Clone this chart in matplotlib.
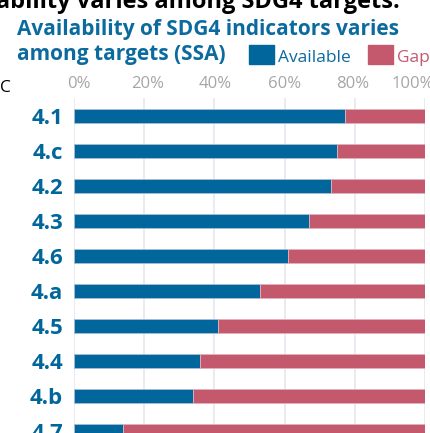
import matplotlib
matplotlib.use("Agg")
import matplotlib.pyplot as plt
from matplotlib.patches import Rectangle
from matplotlib.transforms import ScaledTranslation

categories = ["4.1", "4.c", "4.2", "4.3", "4.6", "4.a", "4.5", "4.4", "4.b", "4.7"]
available = [77.2, 75.0, 73.2, 67.0, 61.1, 53.1, 41.0, 36.0, 33.9, 14.0]
gap = [100 - v for v in available]
xticks = [0, 20, 40, 60, 80, 100]
xticklabels = ["0%", "20%", "40%", "60%", "80%", "100%"]

BLUE = "#00669b"
RED = "#c4596d"
TITLE_BLUE = "#0b6b9f"
GRID = "#e6e8ef"
TICK = "#a6a6a6"

plt.rcParams['font.family'] = ['Open Sans', 'DejaVu Sans']

W, H = 431, 433
fig = plt.figure(figsize=(W / 100, H / 100), dpi=100)

def fx(px):
    return px / W

def fy(py):
    return 1 - py / H

ax = fig.add_axes([fx(74), 0, fx(425) - fx(74), fy(98)])
ypos = list(range(len(categories)))
ax.barh(ypos, available, height=0.4, color=BLUE, edgecolor="#a9bcd6", linewidth=0.6, zorder=3)
ax.barh(ypos, gap, left=available, height=0.4, color=RED, edgecolor="#e2b3bd", linewidth=0.6, zorder=3)
ax.set_xlim(0, 100)
ax.set_ylim(9.05, -0.505)
ax.set_yticks(ypos)
ax.set_yticklabels(categories, fontsize=16, fontweight='bold', color=BLUE)
ax.tick_params(axis='y', length=0, pad=8)
ax.xaxis.tick_top()
ax.set_xticks(xticks)
ax.set_xticklabels(xticklabels, fontsize=12, color=TICK)
ax.tick_params(axis='x', length=0, pad=4.5)
offsets = [4.5, 3, 1, -0.5, -2, -12]
for lab, off in zip(ax.get_xticklabels(), offsets):
    lab.set_transform(lab.get_transform() + ScaledTranslation(off / 100, 0, fig.dpi_scale_trans))
ax.grid(axis='x', color=GRID, linewidth=1.2, zorder=0)
for s in ax.spines.values():
    s.set_visible(False)

# Titles (cropped screenshot)
fig.text(fx(400), fy(7.5), "Data availability varies among SDG4 targets.", ha='right',
         va='baseline', fontsize=17, fontweight='bold', color='black')
fig.text(fx(17), fy(35), "Availability of SDG4 indicators varies", ha='left', va='baseline',
         fontsize=15, fontweight='bold', color=TITLE_BLUE)
fig.text(fx(17), fy(60), "among targets (SSA)", ha='left', va='baseline',
         fontsize=15, fontweight='bold', color=TITLE_BLUE)
fig.text(fx(0), fy(92), "C", ha='left', va='baseline', fontsize=12.5, color='black')

# Legend
fig.patches.append(Rectangle((fx(249), fy(64)), fx(25), 19 / H, transform=fig.transFigure,
                             color=BLUE, figure=fig))
fig.text(fx(278), fy(62), "Available", ha='left', va='baseline', fontsize=12.5, color=TITLE_BLUE)
fig.patches.append(Rectangle((fx(368), fy(64)), fx(25), 19 / H, transform=fig.transFigure,
                             color=RED, figure=fig))
fig.text(fx(397), fy(62), "Gap", ha='left', va='baseline', fontsize=12.5, color=RED)

fig.savefig("out.png", dpi=100)
